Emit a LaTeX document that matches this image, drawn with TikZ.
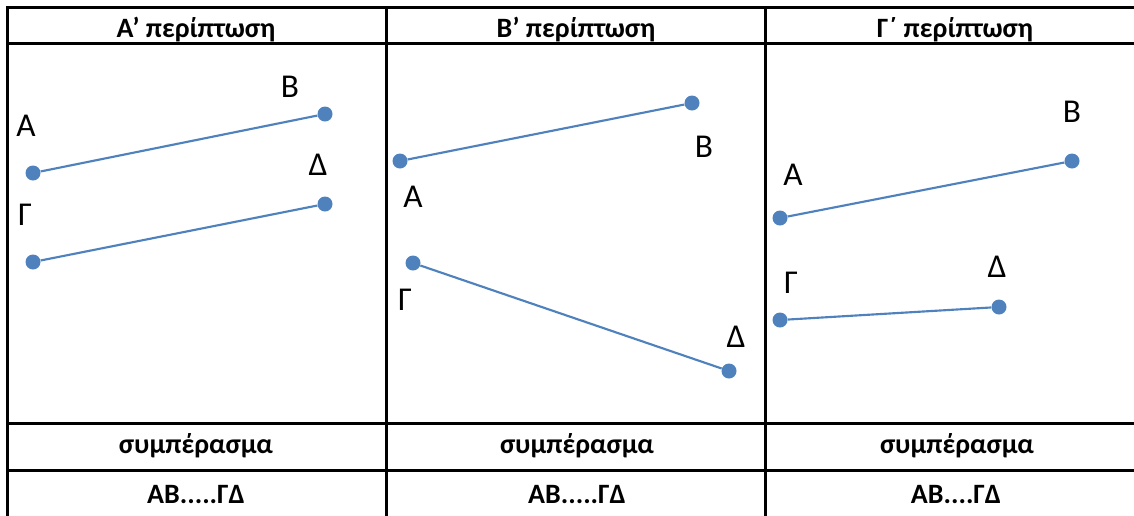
\documentclass[tikz,border=0pt]{standalone}
\usepackage{fontspec}
\setmainfont{Carlito}
\usepackage{tikz}
\usetikzlibrary{positioning}
\definecolor{dotblue}{HTML}{4F81BD}

\begin{document}
\begin{tikzpicture}[x=0.75pt,y=-0.75pt,
  grid/.style = {line width=2.25pt,line cap=rect},
  head/.style = {anchor=base,font=\bfseries\fontsize{21}{22}\selectfont},
  lbl/.style = {anchor=base,font=\fontsize{25}{26}\selectfont},
  pt/.style = {circle,fill=dotblue,inner sep=0pt,minimum size=11.25pt},
  seg/.style = {dotblue,line width=1.6pt}
]
 \useasboundingbox (0,0) rectangle (1134,515);
 % table
 \draw[grid] (7,7) -- (1134,7);
 \draw[grid] (7,43) -- (1134,43);
 \draw[grid] (7,423) -- (1134,423);
 \draw[grid] (7,470) -- (1134,470);
 \draw[grid] (7,7) -- (7,515);
 \draw[grid] (386,7) -- (386,515);
 \draw[grid] (765,7) -- (765,515);
 \node[head] (h1) at (196,37) {Α’ περίπτωση};
 \node[head] (h2) at (576,37) {Β’ περίπτωση};
 \node[head] (h3) at (955,37) {Γ΄ περίπτωση};
 \node[head] (s1) at (196,453) {συμπέρασμα};
 \node[head] (s2) at (577,453) {συμπέρασμα};
 \node[head] (s3) at (957,453) {συμπέρασμα};
 \node[head] (c1) at (196,503) {ΑΒ.....ΓΔ};
 \node[head] (c2) at (577,503) {ΑΒ.....ΓΔ};
 \node[head] (c3) at (956,503) {ΑΒ....ΓΔ};
 % first case
 \node[pt] (a1) at (33,173) {};
 \node[pt] (b1) at (325,114) {};
 \node[pt] (g1) at (33,262) {};
 \node[pt] (d1) at (325,204) {};
 \draw[seg] (a1) -- (b1);
 \draw[seg] (g1) -- (d1);
 \node[lbl] at (26,136) {Α};
 \node[lbl] at (290,97) {Β};
 \node[lbl] at (25,225) {Γ};
 \node[lbl] at (318,175) {Δ};
 % second case
 \node[pt] (a2) at (400,161) {};
 \node[pt] (b2) at (692,103) {};
 \node[pt] (g2) at (413,263) {};
 \node[pt] (d2) at (729,371) {};
 \draw[seg] (a2) -- (b2);
 \draw[seg] (g2) -- (d2);
 \node[lbl] at (413,207) {Α};
 \node[lbl] at (704,157) {Β};
 \node[lbl] at (405,310) {Γ};
 \node[lbl] at (736,347) {Δ};
 % third case
 \node[pt] (a3) at (780,218) {};
 \node[pt] (b3) at (1072,161) {};
 \node[pt] (g3) at (780,320) {};
 \node[pt] (d3) at (999,307) {};
 \draw[seg] (a3) -- (b3);
 \draw[seg] (g3) -- (d3);
 \node[lbl] at (793,185) {Α};
 \node[lbl] at (1072,122) {Β};
 \node[lbl] at (791,293) {Γ};
 \node[lbl] at (997,277) {Δ};
\end{tikzpicture}
\end{document}
